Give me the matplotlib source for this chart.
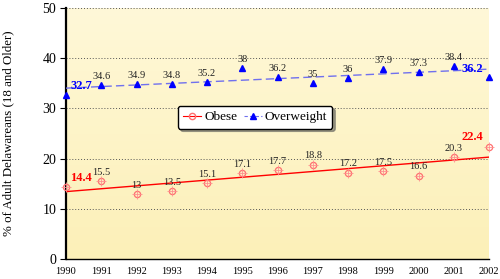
import numpy as np
import matplotlib.pyplot as plt

years = [1990, 1991, 1992, 1993, 1994, 1995, 1996, 1997, 1998, 1999, 2000, 2001, 2002]
obese = [14.4, 15.5, 13, 13.5, 15.1, 17.1, 17.7, 18.8, 17.2, 17.5, 16.6, 20.3, 22.4]
overweight = [32.7, 34.6, 34.9, 34.8, 35.2, 38, 36.2, 35, 36, 37.9, 37.3, 38.4, 36.2]

plt.rcParams['font.family'] = ['Liberation Serif', 'DejaVu Serif']

fig = plt.figure(figsize=(5, 2.79), dpi=100)
ax = fig.add_axes([0.132, 0.072, 0.846, 0.899])

# pale yellow background
grad = np.linspace(0, 1, 256).reshape(-1, 1)
ax.imshow(grad, extent=[1990, 2002, 0, 50], aspect='auto', origin='lower',
          cmap=plt.matplotlib.colors.LinearSegmentedColormap.from_list('bg', ['#fcf0b8', '#fff8d8']),
          zorder=0)

ax.set_xlim(1990, 2002)
ax.set_ylim(0, 50)
ax.set_yticks([0, 10, 20, 30, 40, 50])
ax.set_xticks(years)
for y in [10, 20, 30, 40, 50]:
    ax.axhline(y, color='#555555', lw=0.7, ls=(0, (1, 2)), zorder=1)

for s in ['top', 'right']:
    ax.spines[s].set_visible(False)
ax.spines['left'].set_linewidth(1.6)
ax.spines['bottom'].set_linewidth(1.0)
ax.tick_params(axis='x', length=0, labelsize=7.5, pad=6)
ax.tick_params(axis='y', length=4, labelsize=10, pad=3)
ax.set_ylabel('% of Adult Delawareans (18 and Older)', fontsize=9.3, labelpad=20)

# trend lines
x = np.array(years, dtype=float)
po = np.polyfit(x, obese, 1)
pw = np.polyfit(x, overweight, 1)
ax.plot(x, np.polyval(po, x), color='red', lw=1.0, zorder=3)
ax.plot(x, np.polyval(pw, x), color='#7070ee', lw=1.0, ls=(0, (6, 3)), zorder=3)

# data points
ax.plot(years, obese, ls='none', marker='o', ms=4.5, mfc='none', mec='#ff7070',
        mew=0.9, zorder=4, clip_on=False)
ax.plot(years, obese, ls='none', marker='+', ms=7, mec='#ff9090',
        mew=0.6, zorder=4, clip_on=False)
ax.plot(years, overweight, ls='none', marker='^', ms=5, color='blue',
        zorder=4, clip_on=False)

for i, (yr, v) in enumerate(zip(years, obese)):
    if i == 0:
        ax.annotate(f'{v:g}', (yr, v), xytext=(11, 6.5), textcoords='offset points',
                    ha='center', va='center', color='red', fontsize=9, fontweight='bold')
    elif i == len(years) - 1:
        ax.annotate(f'{v:g}', (yr, v), xytext=(-12, 7), textcoords='offset points',
                    ha='center', va='center', color='red', fontsize=9, fontweight='bold')
    else:
        ax.annotate(f'{v:g}', (yr, v), xytext=(0, 3), textcoords='offset points',
                    ha='center', va='bottom', color='#222222', fontsize=7.5)

for i, (yr, v) in enumerate(zip(years, overweight)):
    if i == 0:
        ax.annotate(f'{v:g}', (yr, v), xytext=(11, 6.5), textcoords='offset points',
                    ha='center', va='center', color='blue', fontsize=9, fontweight='bold')
    elif i == len(years) - 1:
        ax.annotate(f'{v:g}', (yr, v), xytext=(-12, 6), textcoords='offset points',
                    ha='center', va='center', color='blue', fontsize=9, fontweight='bold')
    else:
        ax.annotate(f'{v:g}', (yr, v), xytext=(0, 3), textcoords='offset points',
                    ha='center', va='bottom', color='#222222', fontsize=7.5)

# legend handles
h1, = ax.plot([], [], color='red', lw=0.8, marker='o', ms=4.5, mfc='none', mec='#ff7070')
h2, = ax.plot([], [], color='#7070ee', lw=0.8, ls=(0, (3, 2)), marker='^', ms=5,
              mfc='blue', mec='blue')
leg = ax.legend([h1, h2], ['Obese', 'Overweight'], loc='center',
                bbox_to_anchor=(0.447, 0.565), ncol=2, fontsize=9.5, frameon=True,
                fancybox=True, shadow=True, handlelength=1.4, handletextpad=0.2,
                columnspacing=0.5, borderpad=0.4, edgecolor='black')
leg.get_frame().set_linewidth(1.0)
leg.get_frame().set_facecolor('white')
leg.set_zorder(6)

fig.savefig('out.png', dpi=100)
